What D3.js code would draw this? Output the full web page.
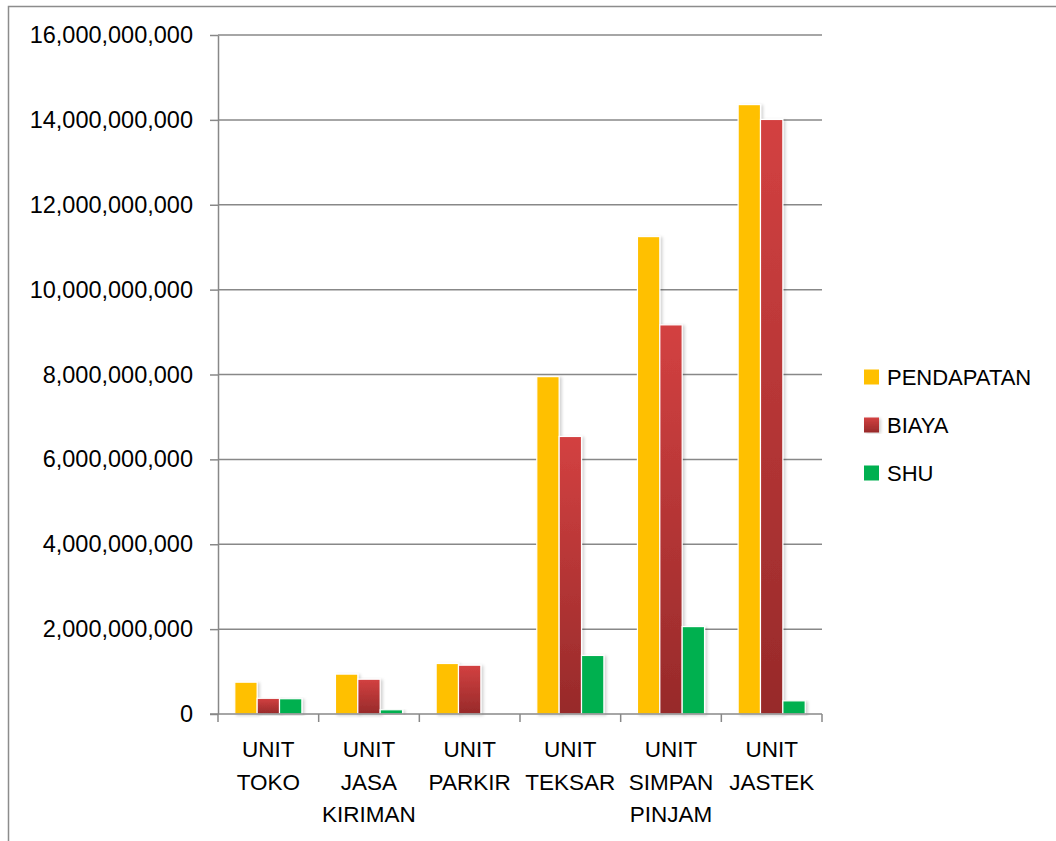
<!DOCTYPE html>
<html>
<head>
<meta charset="utf-8">
<script src="https://cdn.jsdelivr.net/npm/d3@7"></script>
<style>
  body { margin: 0; background: #fff; }
  svg { display: block; font-family: "Liberation Sans", Arial, sans-serif; }
</style>
</head>
<body>
<svg id="chart" width="1056" height="841"></svg>
<script>
// data
var categories = ["UNIT TOKO", "UNIT JASA KIRIMAN", "UNIT PARKIR", "UNIT TEKSAR", "UNIT SIMPAN PINJAM", "UNIT JASTEK"];
var seriesNames = ["PENDAPATAN", "BIAYA", "SHU"];
var pendapatan = [750000000, 940000000, 1190000000, 7950000000, 11250000000, 14360000000];
var biaya = [370000000, 820000000, 1150000000, 6540000000, 9170000000, 14010000000];
var shu = [360000000, 100000000, 0, 1380000000, 2060000000, 310000000];
var yTicks = [0, 2e9, 4e9, 6e9, 8e9, 10e9, 12e9, 14e9, 16e9];

var seriesValues = [pendapatan, biaya, shu];
var seriesColors = { "PENDAPATAN": "#FFC000", "BIAYA": "url(#redGrad)", "SHU": "#00B050" };

var svg = d3.select("#chart");

// outer frame (runs off the right and bottom of the picture)
svg.append("rect")
  .attr("x", 8.5).attr("y", 6.5)
  .attr("width", 1100).attr("height", 900)
  .attr("fill", "none")
  .attr("stroke", "#8c8c8c")
  .attr("stroke-width", 1.5);

var defs = svg.append("defs");
var grad = defs.append("linearGradient")
  .attr("id", "redGrad")
  .attr("x1", 0).attr("y1", 0).attr("x2", 0).attr("y2", 1);
grad.append("stop").attr("offset", "0%").attr("stop-color", "#d34141");
grad.append("stop").attr("offset", "100%").attr("stop-color", "#972a2a");

var shadow = defs.append("filter").attr("id", "shadow")
  .attr("x", "-20%").attr("y", "-5%").attr("width", "150%").attr("height", "115%");
shadow.append("feDropShadow")
  .attr("dx", 2).attr("dy", 1)
  .attr("stdDeviation", 1.5)
  .attr("flood-color", "#000")
  .attr("flood-opacity", 0.18);

var plotLeft = 218, plotRight = 822, plotTop = 35, plotBottom = 714;

var x = d3.scaleBand()
  .domain(categories)
  .range([plotLeft, plotRight]);

var barW = x.bandwidth() / 4.5;   // gap width 150%
var xInner = d3.scaleBand()
  .domain(seriesNames)
  .range([0.75 * barW, 3.75 * barW]);

var y = d3.scaleLinear()
  .domain([0, 16e9])
  .range([plotBottom, plotTop]);

// gridlines
svg.append("g")
  .selectAll("line")
  .data(yTicks.slice(1))
  .join("line")
  .attr("x1", plotLeft).attr("x2", plotRight)
  .attr("y1", d => y(d)).attr("y2", d => y(d))
  .attr("stroke", "#888")
  .attr("stroke-width", 1.5);

// y axis
var yAxis = svg.append("g")
  .attr("transform", "translate(" + plotLeft + ",0)")
  .call(d3.axisLeft(y)
    .tickValues(yTicks)
    .tickFormat(d3.format(","))
    .tickSize(8)
    .tickSizeOuter(0)
    .tickPadding(17));
yAxis.select(".domain").attr("stroke", "#888").attr("stroke-width", 1.5);
yAxis.selectAll(".tick line").attr("stroke", "#888").attr("stroke-width", 1.5);
yAxis.selectAll(".tick text")
  .attr("fill", "#000")
  .style("font-size", "23.5px")
  .style("font-family", "'Liberation Sans', Arial, sans-serif");

// bars
var barData = [];
categories.forEach((c, i) => {
  seriesNames.forEach((s, j) => {
    barData.push({ cat: c, series: s, value: seriesValues[j][i] });
  });
});

svg.append("g")
  .selectAll("rect")
  .data(barData.filter(d => d.value > 0))
  .join("rect")
  .attr("x", d => x(d.cat) + xInner(d.series))
  .attr("y", d => y(d.value))
  .attr("width", xInner.bandwidth())
  .attr("height", d => y(0) - y(d.value))
  .attr("fill", d => seriesColors[d.series])
  .attr("stroke", "#fff")
  .attr("stroke-width", 1.2)
  .attr("filter", "url(#shadow)");

// x axis
var xAxis = svg.append("g")
  .attr("transform", "translate(0," + plotBottom + ")");
xAxis.append("line")
  .attr("x1", plotLeft - 8).attr("x2", plotRight)
  .attr("stroke", "#888").attr("stroke-width", 1.5);
xAxis.selectAll(".xtick")
  .data(categories.concat(["end"]))
  .join("line")
  .attr("class", "xtick")
  .attr("x1", (d, i) => plotLeft + i * x.step())
  .attr("x2", (d, i) => plotLeft + i * x.step())
  .attr("y1", 0).attr("y2", 8)
  .attr("stroke", "#888").attr("stroke-width", 1.5);

var labels = xAxis.selectAll(".xlabel")
  .data(categories)
  .join("text")
  .attr("class", "xlabel")
  .attr("text-anchor", "middle")
  .attr("fill", "#000")
  .style("font-size", "22.5px");
labels.each(function (d) {
  var t = d3.select(this);
  d.split(" ").forEach((word, k) => {
    t.append("tspan")
      .attr("x", x(d) + x.bandwidth() / 2)
      .attr("y", 43 + k * 32.7)
      .text(word);
  });
});

// legend
var legend = svg.append("g")
  .selectAll("g")
  .data(seriesNames)
  .join("g")
  .attr("transform", (d, i) => "translate(864," + (377 + i * 48) + ")");
legend.append("rect")
  .attr("x", 0).attr("y", -7.5)
  .attr("width", 15).attr("height", 15)
  .attr("fill", d => seriesColors[d])
  .attr("filter", d => d === "BIAYA" ? "url(#shadow)" : null);
legend.append("text")
  .attr("x", 23).attr("y", 0)
  .attr("dy", "0.36em")
  .attr("fill", "#000")
  .style("font-size", "22px")
  .text(d => d);
</script>
</body>
</html>
